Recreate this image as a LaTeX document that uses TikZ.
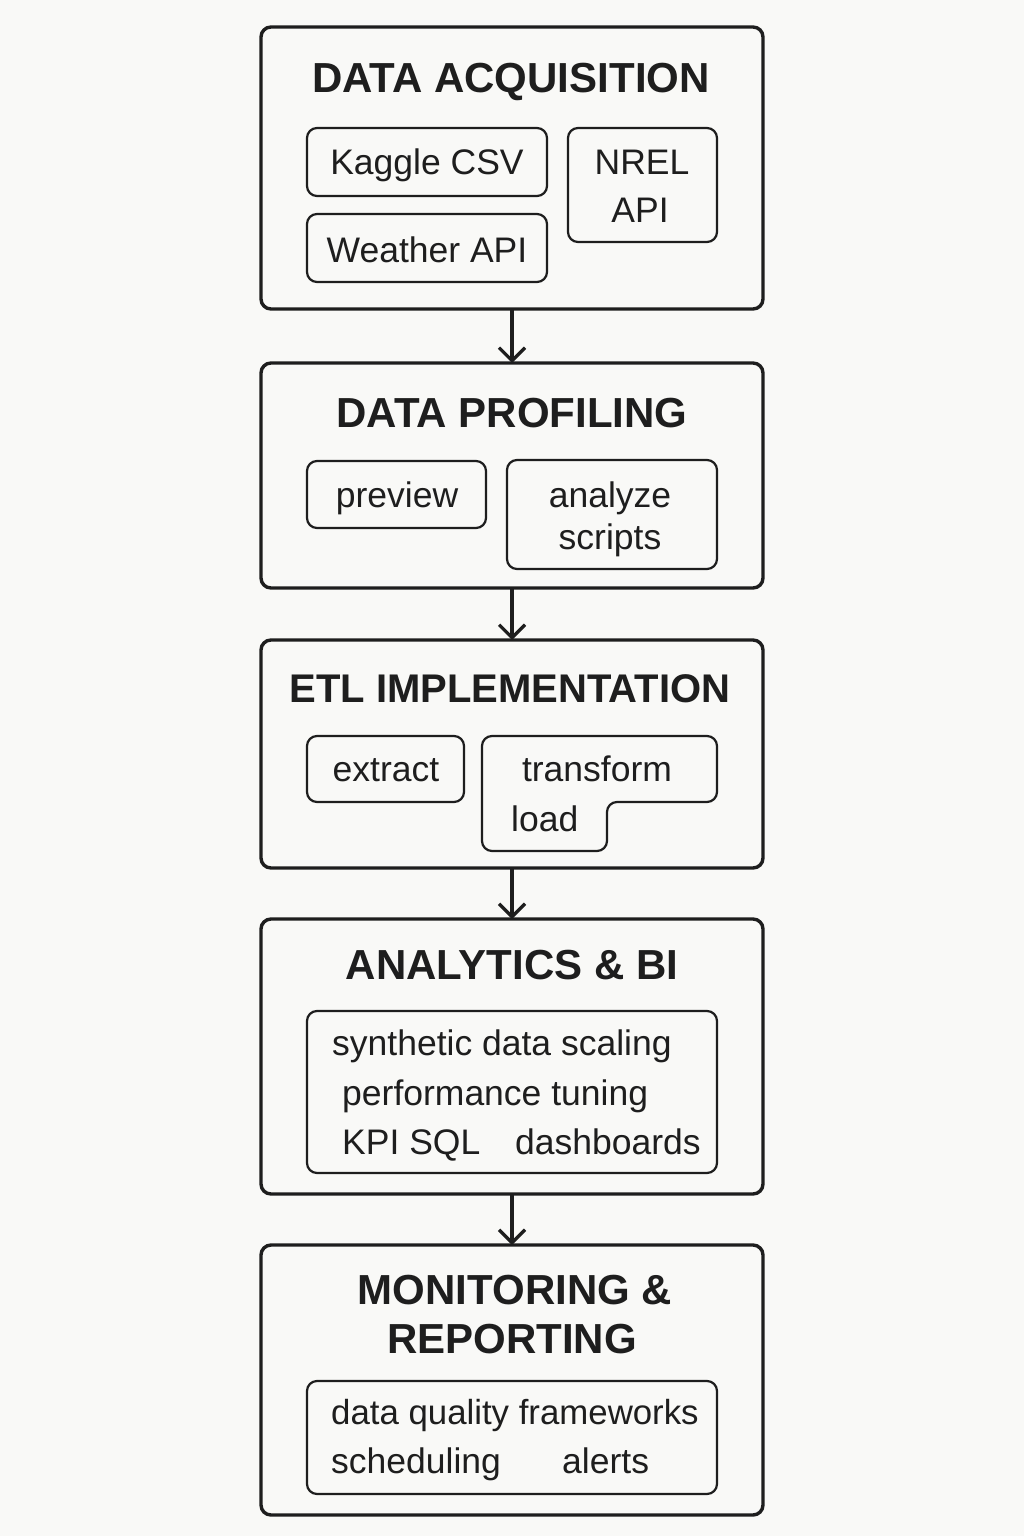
\documentclass[tikz,border=0pt]{standalone}
\usepackage{fontspec}
\setmainfont{Liberation Sans}
\usetikzlibrary{arrows.meta}
\definecolor{bg}{HTML}{F9F9F7}
\definecolor{ink}{HTML}{1E1E1E}
\tikzset{
  stage/.style={draw=ink, line width=3.4pt, rounded corners=10pt, inner sep=0pt, outer sep=0pt},
  sub/.style={draw=ink, line width=2.2pt, rounded corners=10pt, inner sep=0pt, outer sep=0pt},
  ttl/.style={font=\fontsize{42}{50}\selectfont\bfseries, text=ink, inner sep=0pt, anchor=base},
  txt/.style={font=\fontsize{35.5}{42}\selectfont, text=ink, inner sep=0pt},
  flow/.style={draw=ink, line width=3.2pt, -{Straight Barb[length=13pt,width=26pt,line width=3.2pt]}}
}
\begin{document}
\begin{tikzpicture}[x=1pt,y=-1pt]
\fill[bg] (0,0) rectangle (1024,1536);
\useasboundingbox (0,0) rectangle (1024,1536);

% Stage 1
\node[stage, minimum width=502pt, minimum height=282pt] (s1) at (512,168) {};
\node[ttl] (t1) at (511,93) {DATA ACQUISITION};
\node[sub, minimum width=240pt, minimum height=68pt] (kag) at (427,162) {};
\node[sub, minimum width=240pt, minimum height=68pt] (wea) at (427,248) {};
\node[sub, minimum width=149pt, minimum height=114pt] (nrel) at (642.5,185) {};
\node[txt, anchor=base] at (427,175) {Kaggle CSV};
\node[txt, anchor=base] at (427,262) {Weather API};
\node[txt, anchor=base] at (642,175) {NREL};
\node[txt, anchor=base] at (640,222) {API};

% Stage 2
\node[stage, minimum width=502pt, minimum height=225pt] (s2) at (512,475.5) {};
\node[ttl] (t2) at (512,427) {DATA PROFILING};
\node[sub, minimum width=179pt, minimum height=67pt] (prev) at (396.5,494.5) {};
\node[sub, minimum width=210pt, minimum height=109pt] (ana) at (612,514.5) {};
\node[txt, anchor=base] at (397,507) {preview};
\node[txt, anchor=base] at (610,507) {analyze};
\node[txt, anchor=base] at (610,549) {scripts};

% Stage 3
\node[stage, minimum width=502pt, minimum height=228pt] (s3) at (512,754) {};
\node[ttl, font=\fontsize{40}{48}\selectfont\bfseries] (t3) at (510,702) {ETL IMPLEMENTATION};
\node[sub, minimum width=157pt, minimum height=66pt] (ext) at (385.5,769) {};
\draw[sub] (482,736) -- (717,736) -- (717,802) -- (607,802) -- (607,851) -- (482,851) -- cycle;
\node[txt, anchor=base] at (386,781) {extract};
\node[txt, anchor=base] at (597,781) {transform};
\node[txt, anchor=base west] at (511,831) {load};

% Stage 4
\node[stage, minimum width=502pt, minimum height=275pt] (s4) at (512,1056.5) {};
\node[ttl] (t4) at (512,979) {ANALYTICS \& BI};
\node[sub, minimum width=410pt, minimum height=162pt] (anb) at (512,1092) {};
\node[txt, anchor=base west] at (332,1055) {synthetic data scaling};
\node[txt, anchor=base west] at (342,1105) {performance tuning};
\node[txt, anchor=base west] at (342,1154) {KPI SQL};
\node[txt, anchor=base west] at (515,1154) {dashboards};

% Stage 5
\node[stage, minimum width=502pt, minimum height=270pt] (s5) at (512,1380) {};
\node[ttl] (t5a) at (515,1304) {MONITORING \&};
\node[ttl] (t5b) at (512,1353) {REPORTING};
\node[sub, minimum width=410pt, minimum height=113pt] (mon) at (512,1437.5) {};
\node[txt, font=\fontsize{34.8}{42}\selectfont, anchor=base west] at (331,1424) {data quality frameworks};
\node[txt, anchor=base west] at (331,1473) {scheduling};
\node[txt, anchor=base west] at (562,1473) {alerts};

% Connectors
\draw[flow] (s1.south) -- (s2.north);
\draw[flow] (s2.south) -- (s3.north);
\draw[flow] (s3.south) -- (s4.north);
\draw[flow] (s4.south) -- (s5.north);
\end{tikzpicture}
\end{document}
